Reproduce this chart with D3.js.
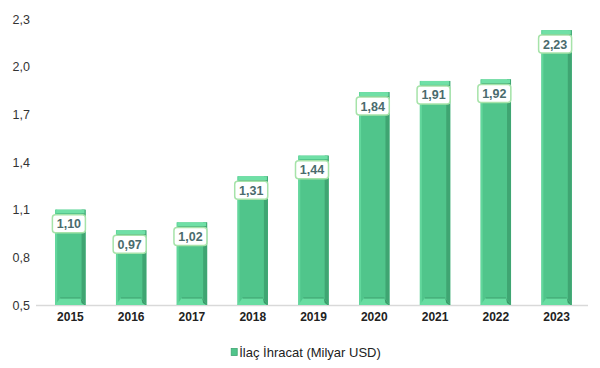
<!DOCTYPE html>
<html><head><meta charset="utf-8">
<script src="https://cdn.jsdelivr.net/npm/d3@7"></script>
<style>body{margin:0;background:#fff}svg{display:block;font-family:"Liberation Sans",Arial,sans-serif}</style>
</head><body>
<svg id="c" width="600" height="368"></svg>
<script>
const categories = ["2015","2016","2017","2018","2019","2020","2021","2022","2023"];
const values = [1.10,0.97,1.02,1.31,1.44,1.84,1.91,1.92,2.23];
const labels = ["1,10","0,97","1,02","1,31","1,44","1,84","1,91","1,92","2,23"];
const yTicks = [0.5,0.8,1.1,1.4,1.7,2.0,2.3];
const seriesName = "İlaç İhracat (Milyar USD)";

const svg = d3.select("#c");
const x = d3.scaleBand().domain(categories).range([40,587]).paddingInner(0.5).paddingOuter(0.25);
const y = d3.scaleLinear().domain([0.5,2.3]).range([305,19]);

const fmt = d => d.toFixed(1).replace(".", ",");
const yAxis = svg.append("g").attr("transform","translate(30,0)")
  .call(d3.axisLeft(y).tickValues(yTicks).tickFormat(fmt).tickSize(0).tickPadding(0));
yAxis.select(".domain").remove();
yAxis.selectAll("text").attr("font-size",12.5).attr("fill","#333").attr("font-family","Liberation Sans, Arial, sans-serif");

svg.append("line").attr("x1",36).attr("x2",588).attr("y1",305.5).attr("y2",305.5)
  .attr("stroke","#d9d9d9").attr("stroke-width",1.5);

const xAxis = svg.append("g").attr("transform","translate(0,312)")
  .call(d3.axisBottom(x).tickSize(0).tickPadding(0));
xAxis.select(".domain").remove();
xAxis.selectAll("text").attr("font-size",12).attr("font-weight","bold").attr("fill","#222")
  .attr("font-family","Liberation Sans, Arial, sans-serif");

const bw = x.bandwidth();
const g = svg.append("g");
categories.forEach((c,i) => {
  const x0 = x(c), top = y(values[i]), bot = y(0.5);
  const gg = g.append("g");
  gg.append("rect").attr("x",x0).attr("y",top).attr("width",bw).attr("height",bot-top).attr("fill","#50c58b");
  gg.append("rect").attr("x",x0).attr("y",top).attr("width",2).attr("height",bot-top).attr("fill","#62d79c");
  gg.append("rect").attr("x",x0+bw-4).attr("y",top).attr("width",4).attr("height",bot-top).attr("fill","#3fa572");
  gg.append("rect").attr("x",x0+1).attr("y",top).attr("width",bw-2).attr("height",4).attr("fill","#6fe0a6");
  gg.append("line").attr("x1",x0+1).attr("x2",x0+bw-1).attr("y1",top+4.5).attr("y2",top+4.5).attr("stroke","#3fa572").attr("stroke-width",1);
  gg.append("polygon").attr("points",[[x0,bot],[x0+5,bot-7],[x0+bw-5,bot-7],[x0+bw,bot]].map(p=>p.join(",")).join(" "))
    .attr("fill","#68dda2");
  gg.append("line").attr("x1",x0+5).attr("x2",x0+bw-5).attr("y1",bot-7).attr("y2",bot-7).attr("stroke","#3c9f6c").attr("stroke-width",1);
  gg.append("polygon").attr("points",[[x0+bw,bot],[x0+bw-5,bot-7],[x0+bw-4,bot-2],[x0+bw-1,bot]].map(p=>p.join(",")).join(" "))
    .attr("fill","#3a9a69");
  const cx = x0 + bw/2 - 1.5, by = top + 5;
  const tw = 33, th = 18;
  gg.append("rect").attr("x",cx - tw/2).attr("y",by).attr("width",tw).attr("height",th).attr("rx",3)
    .attr("fill","#fff").attr("stroke","#a6e3a9").attr("stroke-width",1.5);
  gg.append("text").attr("x",cx).attr("y",by+th/2).attr("dy","0.36em").attr("text-anchor","middle")
    .attr("font-size",12.5).attr("font-weight","bold").attr("fill","#4a6b6d").text(labels[i]);
});

const lg = svg.append("g").attr("transform","translate(306,352)");
const lt = lg.append("text").attr("x",6).attr("y",0).attr("dy","0.36em").attr("font-size",13).attr("fill","#222").text(seriesName);
const w = lt.node().getComputedTextLength();
const off = -(w+8)/2;
lt.attr("x",off+8);
lg.append("rect").attr("x",off).attr("y",-3.5).attr("width",6).attr("height",7).attr("fill","#50c58b").attr("stroke","#3fa572").attr("stroke-width",0.8);
</script>
</body></html>
